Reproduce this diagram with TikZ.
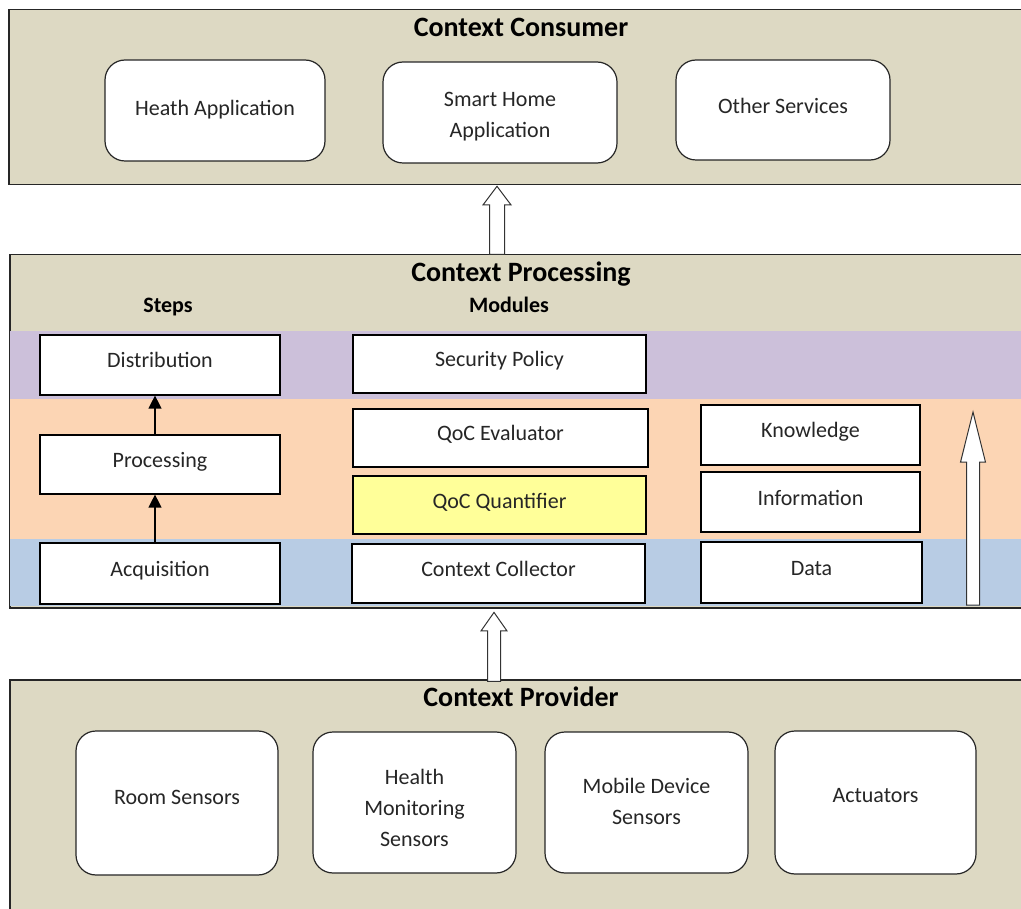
\documentclass[tikz,border=0pt]{standalone}
\usepackage{fontspec}
\setmainfont{Carlito}
\usetikzlibrary{shapes.arrows,arrows.meta}
\definecolor{paneltan}{HTML}{DDD9C3}
\definecolor{bandpurple}{HTML}{CCC0DA}
\definecolor{bandorange}{HTML}{FCD5B4}
\definecolor{bandblue}{HTML}{B8CCE4}
\definecolor{quantyellow}{HTML}{FFFF99}
\definecolor{boxtext}{HTML}{262626}

\begin{document}
\begin{tikzpicture}
[x=1pt,y=-1pt,
  panel/.style={draw=black!85,line width=1.5pt,fill=paneltan,anchor=north west,inner sep=0pt},%
  paneltitle/.style={font=\fontsize{28}{32}\selectfont\bfseries},%
  colhead/.style={font=\fontsize{22}{26}\selectfont\bfseries},%
  roundbox/.style={draw=black!85,line width=1.2pt,fill=white,rounded corners=20pt},%
  roundtext/.style={align=center,text=boxtext,font=\fontsize{22}{31}\selectfont},%
  stepbox/.style={draw=black,line width=1.2pt,fill=white,inner sep=0pt,
    text height=15pt,text depth=9pt,text=boxtext,font=\fontsize{22}{26}\selectfont},%
  steparrow/.style={line width=1.3pt,-{Triangle[width=13pt,length=13pt]}},%
  blockarrow/.style={single arrow,draw=black!80,line width=1pt,fill=white,
    inner xsep=0pt,rotate=90,anchor=tip,single arrow head indent=0pt}]
\useasboundingbox (0,0) rectangle (1021,909);
\clip (0,0) rectangle (1021,909);
%% panels
\node (consumer) [panel,minimum width=1040,minimum height=175] at (8,9) {};
\node (processing) [panel,minimum width=1040,minimum height=353] at (9,254) {};
\node (provider) [panel,minimum width=1040,minimum height=260] at (9,679) {};
%% colour bands of the processing panel
\fill[bandpurple] (9.8,331) rectangle (1040,399);
\fill[bandorange] (9.8,399) rectangle (1040,539);
\fill[bandblue] (9.8,539) rectangle (1040,606.2);
%% titles
\node (constitle) [paneltitle] at (521,27) {Context Consumer};
\node (proctitle) [paneltitle] at (521,274) {Context Processing};
\node (provtitle) [paneltitle] at (521,697) {Context Provider};
\node (steps) [colhead] at (168,307) {Steps};
\node (modules) [colhead] at (509,305) {Modules};
%% consumers and providers
\foreach \nodename/\x/\y/\w/\h/\dy/\txt in {heath/215/110.5/220/101/1/Heath Application,
  smart/500/112.5/234/101/-4.5/{Smart Home\\Application},
  other/783/110/214/100/4/Other Services,
  room/177/803/202/144/6/Room Sensors,
  health/414.5/802.5/203/141/-5/{Health\\Monitoring\\Sensors},
  mobile/646.5/802.5/203/141/1.5/{Mobile Device\\Sensors},
  act/875.5/802.5/201/143/7/Actuators} {
  \node (\nodename) at (\x,\y) [roundbox,minimum width=\w,minimum height=\h,
    label={[roundtext,yshift=\dy pt]center:{\txt}}] {};
}
%% steps, modules and levels
\foreach \nodename/\x/\y/\w/\h/\fillcol/\txt in {dist/160/365/240/60/white/Distribution,
  procstep/160/464.5/240/59/white/Processing,
  acq/160/573.5/240/61/white/Acquisition,
  secpol/499.5/364/293/58/white/Security Policy,
  qoceval/500.5/438/295/58/white/QoC Evaluator,
  qocquant/499.5/505/293/58/quantyellow/QoC Quantifier,
  collector/498.5/573.5/293/59/white/Context Collector,
  know/810.5/435/219/60/white/Knowledge,
  info/810.5/502/219/60/white/Information,
  data/811.5/572.5/221/61/white/Data} {
  \node (\nodename) at (\x,\y) [stepbox,fill=\fillcol,minimum width=\w,minimum height=\h] {\txt};
}
%% arrows
\draw[steparrow] ([xshift=-5pt]procstep.north) -- ([xshift=-5pt]dist.south);
\draw[steparrow] ([xshift=-5pt]acq.north) -- ([xshift=-5pt]procstep.south);
\node (uptoconsumer) [blockarrow,minimum height=68,inner ysep=7pt,
  single arrow head extend=6.5pt,single arrow tip angle=74] at (consumer.south -| 497,0) {};
\node (uptoprocessing) [blockarrow,minimum height=69,inner ysep=6pt,
  single arrow head extend=6.5pt,single arrow tip angle=70] at ([yshift=-3pt]processing.south -| 494,0) {};
\node (levels) [blockarrow,minimum height=193,inner ysep=6pt,
  single arrow head extend=6pt,single arrow tip angle=28] at (973,410) {};
\end{tikzpicture}
\end{document}
